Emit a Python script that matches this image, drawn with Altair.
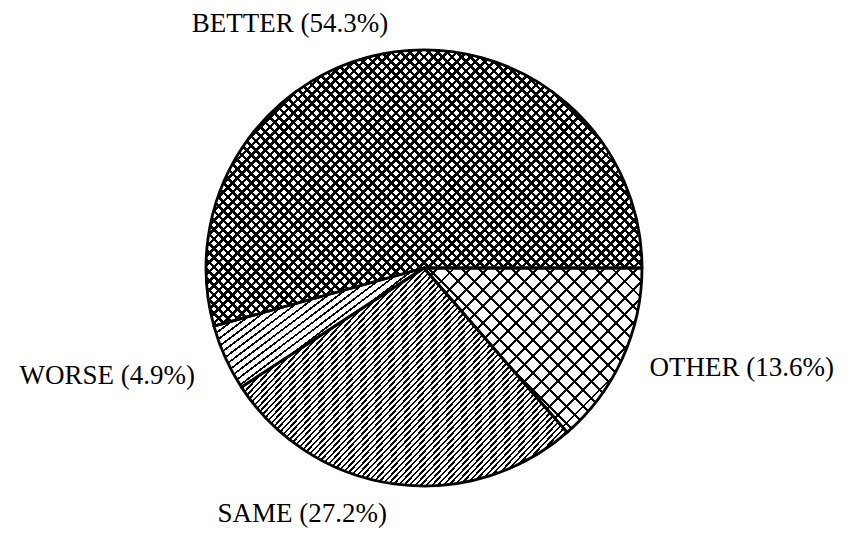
import math
import altair as alt
import pandas as pd

# Survey responses and their shares (percent)
categories = ["OTHER", "SAME", "WORSE", "BETTER"]
shares = [13.6, 27.2, 4.9, 54.3]

# Canvas / pie geometry
VIEW_W, VIEW_H = 848, 536
RADIUS = 218
INK = "#000000"

# Hatch styles per slice: (stripe angle in degrees, spacing px, line width px)
hatch_styles = {
    "BETTER": [(45, 6.6, 2.5), (-45, 6.6, 2.5)],
    "OTHER": [(45, 11.8, 2.1), (-45, 11.8, 2.1)],
    "SAME": [(47, 4.1, 1.7)],
    "WORSE": [(37, 6.2, 1.7)],
}

# Label placement nudges relative to an anchor just outside each slice
label_style = {
    "BETTER": dict(align="center", dx=-102, dy=-8),
    "OTHER": dict(align="left", dx=9, dy=1),
    "SAME": dict(align="center", dx=-89, dy=10),
    "WORSE": dict(align="right", dx=-12, dy=10),
}

# Cumulative start/end of each slice
starts, ends = [], []
acc = 0.0
for s in shares:
    starts.append(acc)
    acc += s
    ends.append(acc)
mids = [(a + b) / 2 for a, b in zip(starts, ends)]

df = pd.DataFrame({
    "category": categories,
    "share": shares,
    "start": starts,
    "end": ends,
    "mid": mids,
    "label": [f"{c} ({s}%)" for c, s in zip(categories, shares)],
})

START_ANGLE = math.pi / 2  # first slice begins at 3 o'clock
theta_scale = alt.Scale(domain=[0, 100], range=[START_ANGLE, START_ANGLE + 2 * math.pi])


def slice_bbox(p0, p1, r):
    """Bounding box of a pie slice path (relative to the pie centre)."""
    t0 = math.degrees(START_ANGLE) + p0 * 3.6
    t1 = math.degrees(START_ANGLE) + p1 * 3.6
    pts = [(0.0, 0.0)]
    for t in [t0, t1] + [k * 90 for k in range(0, 9) if t0 < k * 90 < t1]:
        rad = math.radians(t)
        pts.append((r * math.sin(rad), -r * math.cos(rad)))
    xs = [p[0] for p in pts]
    ys = [p[1] for p in pts]
    return min(xs), min(ys), max(xs), max(ys)


def stripe_gradient(bbox, angle, spacing, width, background):
    """Linear gradient (objectBoundingBox units) drawing parallel hatch lines."""
    x0, y0, x1, y1 = bbox
    w, h = x1 - x0, y1 - y0
    a = math.radians(angle)
    dx, dy = math.cos(a), -math.sin(a)
    # stripe direction in unit space and the gradient vector perpendicular to it
    ux, uy = dx / w, dy / h
    gx, gy = uy, -ux
    n = math.hypot(gx, gy)
    gx, gy = gx / n, gy / n
    proj = [cx * gx + cy * gy for cx, cy in [(0, 0), (1, 0), (0, 1), (1, 1)]]
    pmin, pmax = min(proj), max(proj)
    # extent across stripes in user space
    nx, ny = -dy, dx
    uproj = [cx * nx + cy * ny for cx, cy in [(x0, y0), (x1, y0), (x0, y1), (x1, y1)]]
    extent = max(uproj) - min(uproj)
    periods = extent / spacing
    frac = width / spacing
    stops = []
    k = 0
    while k / periods < 1:
        o0 = k / periods
        o1 = min((k + frac) / periods, 1.0)
        o2 = min((k + 1) / periods, 1.0)
        stops += [
            {"offset": round(o0, 5), "color": INK},
            {"offset": round(o1, 5), "color": INK},
            {"offset": round(o1, 5), "color": background},
            {"offset": round(o2, 5), "color": background},
        ]
        k += 1
    return {
        "gradient": "linear",
        "x1": pmin * gx, "y1": pmin * gy,
        "x2": pmax * gx, "y2": pmax * gy,
        "stops": stops,
    }


base = alt.Chart(df)
theta_enc = dict(
    theta=alt.Theta("start:Q", scale=theta_scale),
    theta2=alt.Theta2("end:Q"),
)

layers = []
# hatched fills: first hatch on white, further hatches on transparent
for cat, p0, p1 in zip(categories, starts, ends):
    bb = slice_bbox(p0, p1, RADIUS)
    for i, (ang, sp, lw) in enumerate(hatch_styles[cat]):
        bg = "#ffffff" if i == 0 else "rgba(255,255,255,0)"
        grad = stripe_gradient(bb, ang, sp, lw, bg)
        layers.append(
            base.transform_filter(alt.datum.category == cat)
            .mark_arc(radius=RADIUS, fill=grad, strokeWidth=0)
            .encode(**theta_enc)
        )

# slice outlines
layers.append(
    base.mark_arc(radius=RADIUS, fill="#ffffff", fillOpacity=0,
                  stroke=INK, strokeWidth=2.8, strokeJoin="round")
    .encode(**theta_enc)
)

# labels
for cat in categories:
    st = label_style[cat]
    layers.append(
        base.transform_filter(alt.datum.category == cat)
        .mark_text(font="Liberation Serif", fontSize=27, color=INK,
                   baseline="middle", align=st["align"], dx=st["dx"], dy=st["dy"])
        .encode(
            theta=alt.Theta("mid:Q", scale=theta_scale),
            radius=alt.value(RADIUS + 20),
            text="label:N",
        )
    )

chart = (
    alt.layer(*layers)
    .properties(width=VIEW_W, height=VIEW_H, background="#ffffff",
                padding={"left": 0, "top": 0, "right": 0, "bottom": 0},
                autosize=alt.AutoSizeParams(type="none"))
    .configure_view(stroke=None)
)

chart.save("out.html", embed_options={"renderer": "svg", "actions": False})
